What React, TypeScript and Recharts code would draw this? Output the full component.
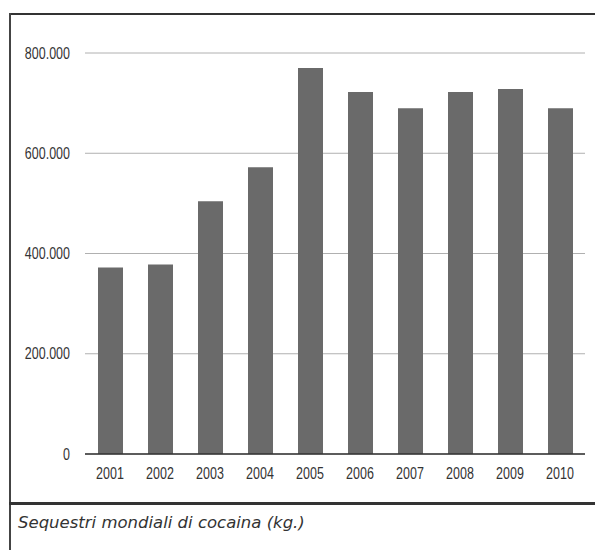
import { BarChart, Bar, XAxis, YAxis, CartesianGrid } from "recharts";

const YEARS = ["2001", "2002", "2003", "2004", "2005", "2006", "2007", "2008", "2009", "2010"];
const SEIZURES = [372000, 378000, 504000, 572000, 770000, 722000, 690000, 722000, 728000, 690000];
const Y_TICKS = [0, 200000, 400000, 600000, 800000];
const CAPTION = "Sequestri mondiali di cocaina (kg.)";

const data = YEARS.map((year, i) => ({ year, value: SEIZURES[i] }));

const fmt = (v: number) => String(v).replace(/\B(?=(\d{3})+(?!\d))/g, ".");

// scanned type looks stretched vertically, so squash it a little
function YTick({ x, y, payload }: any) {
  return (
    <g transform={`translate(${x},${y}) scale(1,1.3)`}>
      <text x={0} y={0} dy="0.35em" textAnchor="end" fill="#333" fontSize={12.5} fontFamily="Liberation Sans, Arial, sans-serif">
        {fmt(payload.value)}
      </text>
    </g>
  );
}

function XTick({ x, y, payload }: any) {
  return (
    <g transform={`translate(${x},${y}) scale(1,1.3)`}>
      <text x={0} y={0} dy="0.71em" textAnchor="middle" fill="#333" fontSize={12.5} fontFamily="Liberation Sans, Arial, sans-serif">
        {payload.value}
      </text>
    </g>
  );
}

export default function App() {
  return (
    <div style={{ position: "absolute", left: 0, top: 0, width: 595, height: 550, background: "#fff", overflow: "hidden" }}>
      <div style={{ position: "absolute", left: 9, top: 13, width: 590, height: 2, background: "#333" }} />
      <div style={{ position: "absolute", left: 9, top: 13, width: 2, height: 540, background: "#444" }} />
      <div style={{ position: "absolute", left: 9, top: 502, width: 590, height: 3, background: "#333" }} />
      <div
        style={{
          position: "absolute",
          left: 18,
          top: 513,
          fontFamily: "DejaVu Sans, Verdana, sans-serif",
          fontStyle: "italic",
          fontSize: 16.5,
          color: "#333",
        }}
      >
        {CAPTION}
      </div>
      <div style={{ position: "absolute", left: 0, top: 0 }}>
        <BarChart width={595} height={500} data={data} margin={{ top: 53, right: 10, bottom: 16, left: 0 }} barCategoryGap={0}>
          <CartesianGrid vertical={false} stroke="#b0b0b0" strokeWidth={1} />
          <XAxis
            dataKey="year"
            tickLine={false}
            tickSize={0}
            tickMargin={13}
            height={30}
            stroke="#333"
            strokeWidth={1.5}
            tick={<XTick />}
          />
          <YAxis
            domain={[0, 800000]}
            ticks={Y_TICKS}
            axisLine={false}
            tickLine={false}
            tickSize={0}
            tickMargin={15}
            width={85}
            tick={<YTick />}
          />
          <Bar dataKey="value" fill="#6a6a6a" barSize={25} isAnimationActive={false} />
        </BarChart>
      </div>
    </div>
  );
}
